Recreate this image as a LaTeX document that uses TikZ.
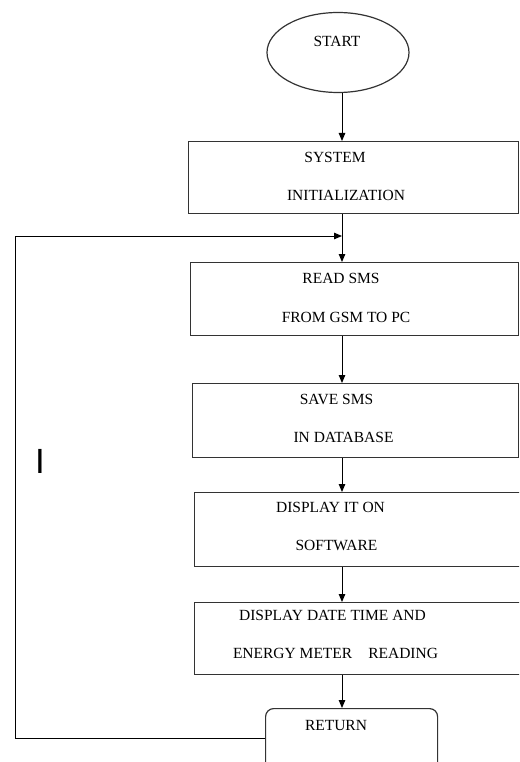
\documentclass[tikz,border=0pt]{standalone}
\usepackage{fontspec}
\setmainfont{Liberation Serif}
\newfontfamily\marksans{Liberation Sans}
\usetikzlibrary{arrows.meta,shapes.geometric}
\tikzset{
  boxshape/.style={draw=black!80, line width=1.2pt, rectangle, anchor=north west, inner sep=0pt},
  lbl/.style={inner sep=0pt, text height=10.3pt, text depth=0pt, font=\fontsize{15.5}{17}\selectfont},
  arr/.style={draw=black, line width=1pt, -{Triangle[length=8pt,width=6.5pt]}},
  conn/.style={draw=black, line width=1pt}
}
\begin{document}
\begin{tikzpicture}[x=1pt,y=-1pt]
\clip (0,0) rectangle (519,762);
\fill[white] (0,0) rectangle (519,762);
\coordinate (spine) at (342,0);
% start
\node[draw=black!80, line width=1.2pt, ellipse, minimum width=142pt, minimum height=80pt, inner sep=0pt] (start) at (338,52.5) {};
\node[lbl] (tstart) at (337,41) {START};
% boxes
\node[boxshape, minimum width=330pt, minimum height=72pt] (b1) at (188,141) {};
\node[lbl] (t1a) at (335,157) {SYSTEM};
\node[lbl] (t1b) at (346,195) {INITIALIZATION};
\node[boxshape, minimum width=328pt, minimum height=73pt] (b2) at (190,262) {};
\node[lbl] (t2a) at (341,278) {READ SMS};
\node[lbl] (t2b) at (346,317) {FROM GSM TO PC};
\node[boxshape, minimum width=326pt, minimum height=74pt] (b3) at (192,383) {};
\node[lbl] (t3a) at (336.5,399) {SAVE SMS};
\node[lbl] (t3b) at (343.5,437) {IN DATABASE};
\node[boxshape, minimum width=340pt, minimum height=74pt] (b4) at (194,492) {};
\node[lbl] (t4a) at (330.5,507) {DISPLAY IT ON};
\node[lbl] (t4b) at (336.5,545) {SOFTWARE};
\node[boxshape, minimum width=340pt, minimum height=72pt] (b5) at (194,602) {};
\node[lbl] (t5a) at (332.5,615) {DISPLAY DATE TIME AND};
\node[lbl] (t5b) at (335.5,653) {ENERGY METER\hspace{16pt}READING};
% return
\node[boxshape, rounded corners=8pt, minimum width=172pt, minimum height=80pt] (ret) at (265,708) {};
\node[lbl] (tret) at (336,725) {RETURN};
% mark
\node[inner sep=0pt, font=\marksans\fontsize{35}{36}\selectfont, text height=25pt, text depth=0pt] (mark) at (40,460.5) {I};
% connectors
\coordinate (fbL) at (15,738);
\coordinate (fbT) at (15,236);
\coordinate (join) at (342,236);
\draw[arr] (start.south -| spine) -- (b1.north -| spine);
\draw[arr] (b1.south -| spine) -- (b2.north -| spine);
\draw[arr] (b2.south -| spine) -- (b3.north -| spine);
\draw[arr] (b3.south -| spine) -- (b4.north -| spine);
\draw[arr] (b4.south -| spine) -- (b5.north -| spine);
\draw[arr] (b5.south -| spine) -- (ret.north -| spine);
\draw[arr] (fbL -| ret.west) -- (fbL) -- (fbT) -- (join);
\end{tikzpicture}
\end{document}
